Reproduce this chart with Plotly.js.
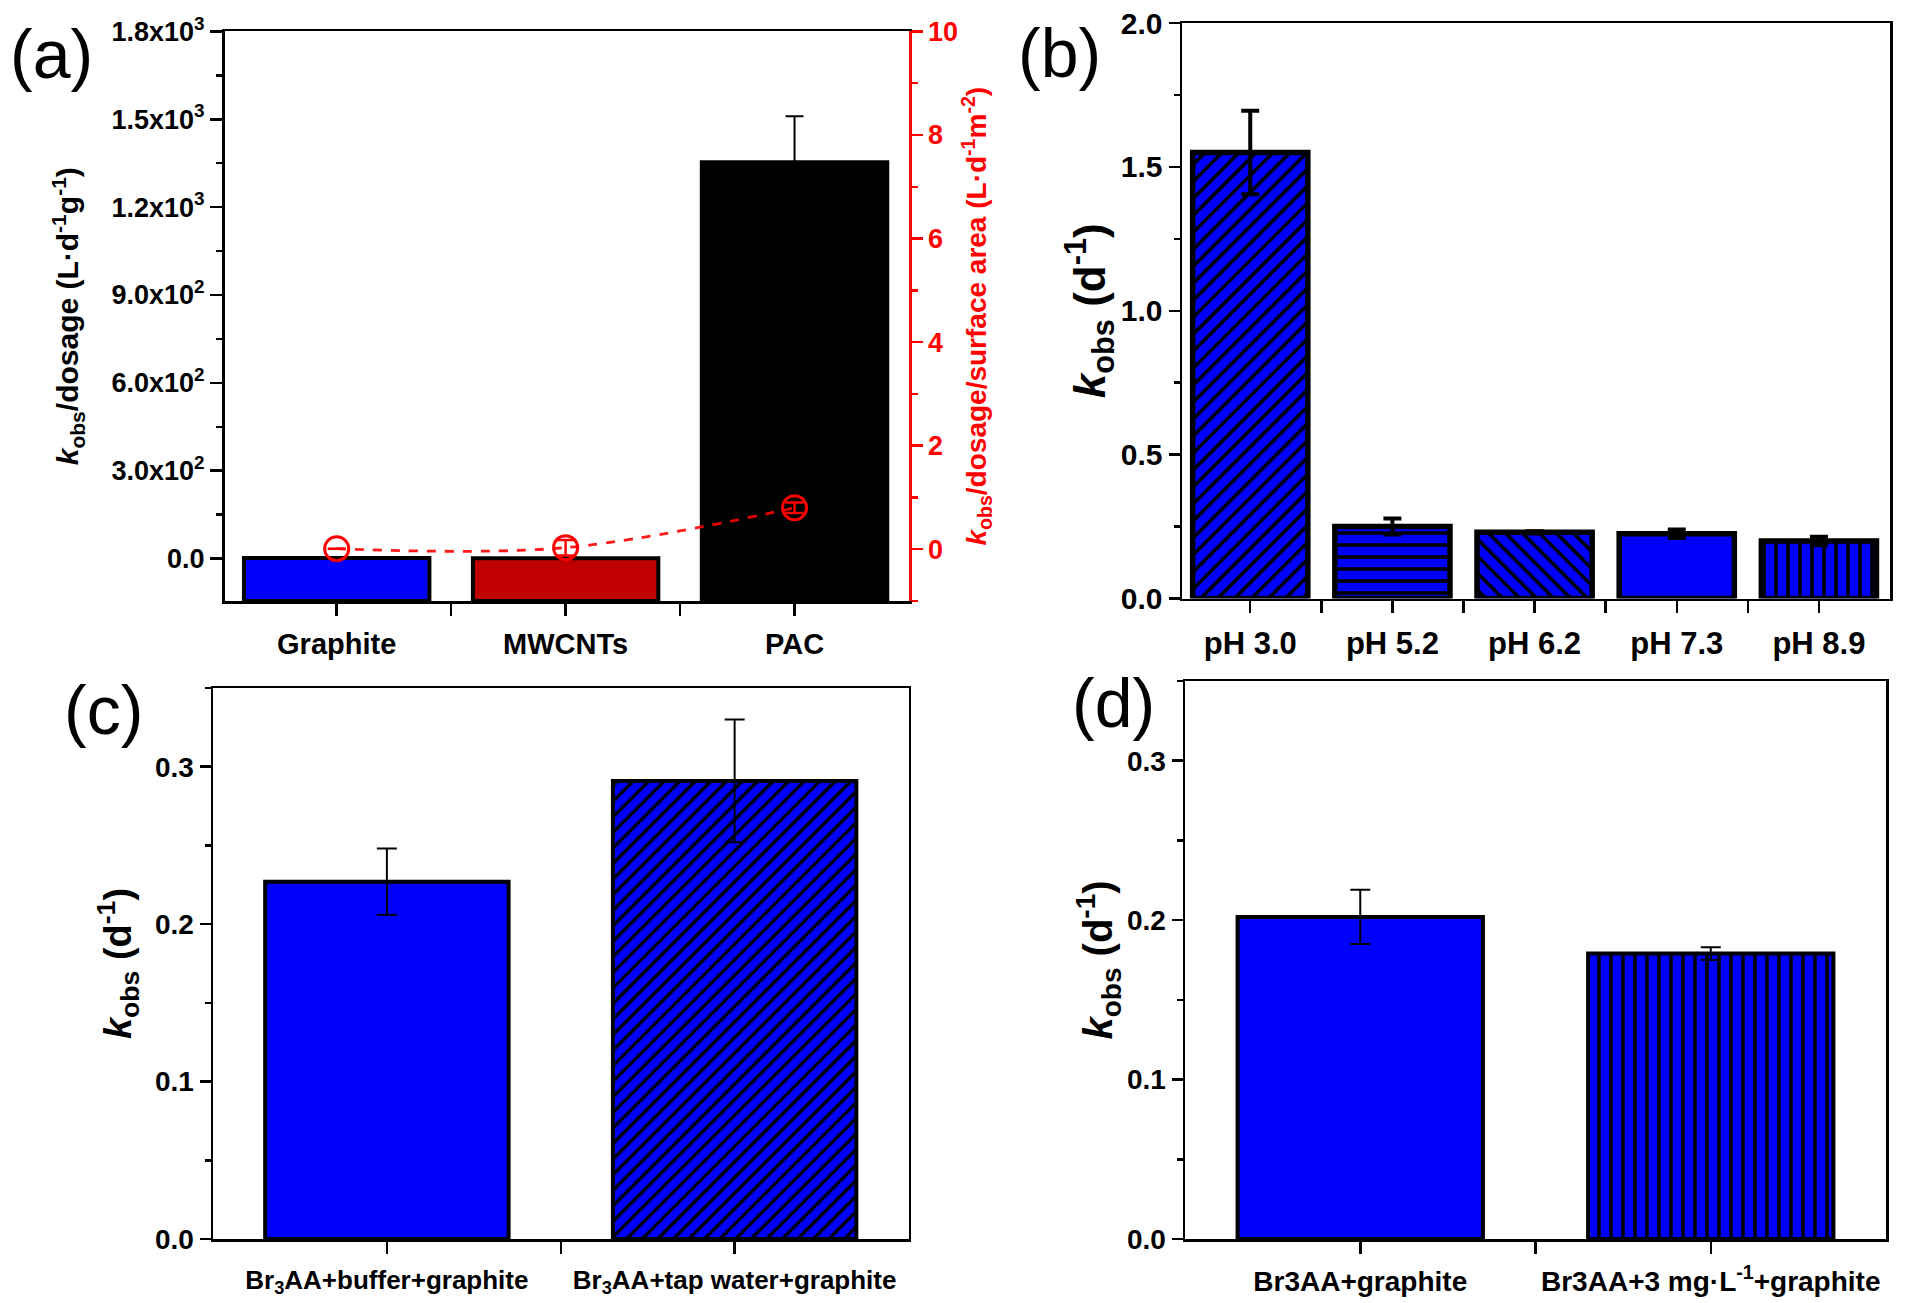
<!DOCTYPE html>
<html>
<head>
<meta charset="utf-8">
<script src="https://cdn.plot.ly/plotly-3.0.1.min.js"></script>
<style>html,body{margin:0;padding:0;background:#fff;}#chart{width:1920px;height:1303px;}</style>
</head>
<body>
<div id="chart"></div>
<script>
// ---------- data ----------
const catsA = ['Graphite', 'MWCNTs', 'PAC'];
const kDosage = [1.5, 1.2, 1353];          // L·d-1·g-1
const kDosageErr = [0, 0, 157];
const kArea = [0.01, 0.03, 0.80];          // L·d-1·m-2
const kAreaErr = [0, 0.15, 0.1];
const colorsA = ['#0000FF', '#C00000', '#000000'];
const tickValsA = [0, 300, 600, 900, 1200, 1500, 1800];
const tickTextA = ['0.0', '3.0x10<sup>2</sup>', '6.0x10<sup>2</sup>', '9.0x10<sup>2</sup>',
                   '1.2x10<sup>3</sup>', '1.5x10<sup>3</sup>', '1.8x10<sup>3</sup>'];

const catsB = ['pH 3.0', 'pH 5.2', 'pH 6.2', 'pH 7.3', 'pH 8.9'];
const kobsB = [1.55, 0.25, 0.23, 0.225, 0.20];
const kobsBErr = [0.145, 0.028, 0.004, 0.015, 0.015];
const patternsB = ['/', '-', '\\', '', '|'];

const catsC = ['Br<sub>3</sub>AA+buffer+graphite', 'Br<sub>3</sub>AA+tap water+graphite'];
const kobsC = [0.227, 0.291];
const kobsCErr = [0.021, 0.039];
const patternsC = ['', '/'];

const catsD = ['Br3AA+graphite', 'Br3AA+3 mg·L<sup>-1</sup>+graphite'];
const kobsD = [0.202, 0.179];
const kobsDErr = [0.017, 0.004];
const patternsD = ['', '|'];

// ---------- helpers ----------
const W = 1920, H = 1303;
const px = v => v / W;
const py = v => 1 - v / H;
const idx = arr => arr.map((_, i) => i);
const A_MIN = -145;
const BLUE = '#0000FF';
const FONT = 'Liberation Sans, Arial, sans-serif';
const kTitle = '<b><i>k</i><sub>obs</sub> (d<sup>-1</sup>)</b>';

const traces = [
  {
    type: 'bar', x: idx(catsA), y: kDosage.map(v => v - A_MIN), base: A_MIN,
    xaxis: 'x', yaxis: 'y', width: 0.81,
    marker: { color: colorsA, line: { color: '#000', width: 4 } },
    error_y: { type: 'data', array: kDosageErr, color: '#000', thickness: 2, width: 9 },
    showlegend: false
  },
  {
    type: 'scatter', mode: 'lines+markers', x: idx(catsA), y: kArea,
    xaxis: 'x', yaxis: 'y2',
    line: { color: 'rgba(255,0,0,0.9)', dash: 'dash', width: 2.8, shape: 'spline' },
    marker: { symbol: 'circle-open', size: 24, color: '#FF0000', line: { width: 3, color: '#FF0000' } },
    error_y: { type: 'data', array: kAreaErr, color: '#FF0000', thickness: 2.5, width: 9 },
    showlegend: false
  },
  {
    type: 'bar', x: idx(catsB), y: kobsB, xaxis: 'x2', yaxis: 'y3', width: 0.81,
    marker: { color: BLUE, line: { color: '#000', width: 5.5 },
      pattern: { shape: patternsB, fgcolor: '#000', bgcolor: BLUE, size: 12, solidity: 0.3 } },
    error_y: { type: 'data', array: kobsBErr, color: '#000', thickness: 4, width: 9 },
    showlegend: false
  },
  {
    type: 'bar', x: idx(catsC), y: kobsC, xaxis: 'x3', yaxis: 'y4', width: 0.70,
    marker: { color: BLUE, line: { color: '#000', width: 4 },
      pattern: { shape: patternsC, fgcolor: '#000', bgcolor: BLUE, size: 11, solidity: 0.3 } },
    error_y: { type: 'data', array: kobsCErr, color: '#000', thickness: 2, width: 10 },
    showlegend: false
  },
  {
    type: 'bar', x: idx(catsD), y: kobsD, xaxis: 'x4', yaxis: 'y5', width: 0.70,
    marker: { color: BLUE, line: { color: '#000', width: 4 },
      pattern: { shape: patternsD, fgcolor: '#000', bgcolor: BLUE, size: 12, solidity: 0.3 } },
    error_y: { type: 'data', array: kobsDErr, color: '#000', thickness: 2, width: 10 },
    showlegend: false
  }
];

const baseX = (cats, dom, anchor, range, fs) => ({
  domain: dom, anchor: anchor, range: range,
  tickmode: 'array', tickvals: idx(cats), ticktext: cats.map(c => '<b>' + c + '</b>'),
  ticks: 'outside', ticklen: 12, tickwidth: 2.5, tickcolor: '#000',
  minor: { tickmode: 'array', tickvals: idx(cats).slice(1).map(i => i - 0.5), ticks: 'outside', ticklen: 12, tickwidth: 2.5, tickcolor: '#000' },
  showline: true, linecolor: '#000', linewidth: 2.5, mirror: true,
  showgrid: false, zeroline: false, ticklabelstandoff: 4,
  tickfont: { size: fs, family: FONT, color: '#000', weight: 'bold' }
});

const baseY = (dom, anchor, range, dtick, mdtick, tickSize, titleSize, standoff) => ({
  domain: dom, anchor: anchor, range: range, dtick: dtick, tick0: 0, tickformat: '.1f',
  ticks: 'outside', ticklen: 11, tickwidth: 2.5, tickcolor: '#000',
  minor: { dtick: mdtick, tick0: 0, ticks: 'outside', ticklen: 6, tickwidth: 2.5, tickcolor: '#000' },
  showline: true, linecolor: '#000', linewidth: 2.5, mirror: true,
  showgrid: false, zeroline: false,
  tickfont: { size: tickSize, family: FONT, color: '#000', weight: 'bold' },
  title: { text: kTitle, font: { size: titleSize, family: FONT, color: '#000' }, standoff: standoff }
});

const domA = { x: [px(224.5), px(909)], y: [py(601), py(31.4)] };
const domB = { x: [px(1182), px(1890)], y: [py(598.5), py(23)] };
const domC = { x: [px(213), px(908.5)], y: [py(1239), py(688)] };
const domD = { x: [px(1185), px(1886)], y: [py(1239), py(681)] };

const layout = {
  width: W, height: H, margin: { l: 0, r: 0, t: 0, b: 0 },
  paper_bgcolor: '#fff', plot_bgcolor: 'rgba(0,0,0,0)',
  font: { family: FONT, color: '#000' },
  showlegend: false, bargap: 0,
  xaxis: baseX(catsA, domA.x, 'y', [-0.49, 2.5], 29),
  yaxis: {
    domain: domA.y, anchor: 'x', range: [A_MIN, 1800],
    tickmode: 'array', tickvals: tickValsA, ticktext: tickTextA.map(t => '<b>' + t + '</b>'),
    ticks: 'outside', ticklen: 12, tickwidth: 2.5, tickcolor: '#000',
    minor: { dtick: 150, tick0: 0, ticks: 'outside', ticklen: 6, tickwidth: 2.5, tickcolor: '#000' },
    showline: true, linecolor: '#000', linewidth: 2.5, mirror: false,
    showgrid: false, zeroline: false,
    tickfont: { size: 27, family: FONT, color: '#000', weight: 'bold' },
    title: { text: '<b><i>k</i><sub>obs</sub>/dosage (L·d<sup>-1</sup>g<sup>-1</sup>)</b>', font: { size: 30, family: FONT, color: '#000' }, standoff: 24 }
  },
  yaxis2: {
    overlaying: 'y', side: 'right', anchor: 'x', range: [-1, 10],
    tickmode: 'array', tickvals: [0, 2, 4, 6, 8, 10],
    ticks: 'outside', ticklen: 11, tickwidth: 2.5, tickcolor: '#FF0000',
    minor: { dtick: 1, tick0: 0, ticks: 'outside', ticklen: 6, tickwidth: 2.5, tickcolor: '#FF0000' },
    showline: true, linecolor: '#FF0000', linewidth: 2.5,
    showgrid: false, zeroline: false,
    tickfont: { size: 27, family: FONT, color: '#FF0000', weight: 'bold' },
    title: { text: '<b><i>k</i><sub>obs</sub>/dosage/surface area (L·d<sup>-1</sup>m<sup>-2</sup>)</b>', font: { size: 28, family: FONT, color: '#FF0000' }, standoff: 10 }
  },
  xaxis2: baseX(catsB, domB.x, 'y3', [-0.48, 4.5], 31),
  yaxis3: baseY(domB.y, 'x2', [0, 2], 0.5, 0.25, 30, 44, 0),
  xaxis3: baseX(catsC, domC.x, 'y4', [-0.5, 1.5], 26),
  yaxis4: baseY(domC.y, 'x3', [0, 0.35], 0.1, 0.05, 28, 38, 12),
  xaxis4: baseX(catsD, domD.x, 'y5', [-0.5, 1.5], 28),
  yaxis5: baseY(domD.y, 'x4', [0, 0.35], 0.1, 0.05, 28, 40, 2),
  annotations: [
    { text: '(a)', x: px(51), y: py(54) },
    { text: '(b)', x: px(1059), y: py(53) },
    { text: '(c)', x: px(103), y: py(710) },
    { text: '(d)', x: px(1113), y: py(703) }
  ].map(a => Object.assign(a, { xref: 'paper', yref: 'paper', xanchor: 'center', yanchor: 'middle', showarrow: false, font: { size: 68, family: FONT, color: '#000' } }))
};

Plotly.newPlot('chart', traces, layout, { staticPlot: true, displayModeBar: false });
</script>
</body>
</html>
